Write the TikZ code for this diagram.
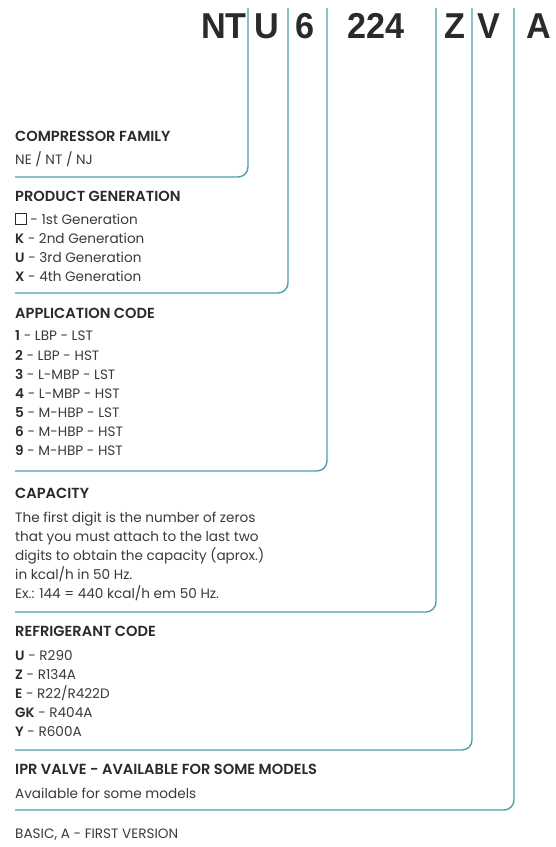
\documentclass[tikz,border=0pt]{standalone}
\usepackage{fontspec}
\setmainfont{Poppins}
\IfFontExistsTF{Poppins SemiBold}{\newfontfamily\hdrfont{Poppins SemiBold}}{\newcommand\hdrfont{\bfseries}}
\newfontfamily\titlefont[FakeStretch=0.95]{Liberation Sans}
\definecolor{lineteal}{HTML}{4F9EA7}
\definecolor{txt}{HTML}{3A3A3A}
\definecolor{hd}{HTML}{2A2A2A}
\tikzset{
  conn/.style={draw=lineteal, line width=1.4pt, rounded corners=10pt},
  ttl/.style={anchor=base west, inner sep=0pt, text=hd, font=\titlefont\bfseries\fontsize{36}{36}\selectfont},
  hdr/.style={anchor=base west, inner sep=0pt, text=hd, font=\fontsize{14.6}{16}\selectfont\hdrfont},
  body/.style={anchor=base west, inner sep=0pt, text=txt, font=\fontsize{13.6}{16}\selectfont},
}
\newcommand{\kk}[1]{{\hdrfont\color{hd}#1}}
\begin{document}
\begin{tikzpicture}[x=1pt,y=-1pt]
\useasboundingbox (0,0) rectangle (556,847);
% title
\node[ttl] (tNT) at (201,38) {NT};
\node[ttl] (tU) at (254,38) {U};
\node[ttl] (t6) at (295,38) {6};
\node[ttl] (t224) at (347,38) {224};
\node[ttl] (tZ) at (444,38) {Z};
\node[ttl] (tV) at (477,38) {V};
\node[ttl] (tA) at (526,38) {A};
% connector tops and ends
\coordinate (s1) at (248,8);  \coordinate (e1) at (15,177);
\coordinate (s2) at (288,8);  \coordinate (e2) at (15,293);
\coordinate (s3) at (327,8);  \coordinate (e3) at (15,471);
\coordinate (s4) at (436,8);  \coordinate (e4) at (15,612);
\coordinate (s5) at (472,8);  \coordinate (e5) at (15,750);
\coordinate (s6) at (514,8);  \coordinate (e6) at (15,810);
\draw[conn] (s1) |- (e1);
\draw[conn] (s2) |- (e2);
\draw[conn] (s3) |- (e3);
\draw[conn] (s4) |- (e4);
\draw[conn] (s5) |- (e5);
\draw[conn] (s6) |- (e6);
% compressor family
\node[hdr] (h1) at (15,141) {COMPRESSOR FAMILY};
\node[body] (b11) at (15,164) {NE / NT / NJ};
% product generation
\node[hdr] (h2) at (15,201) {PRODUCT GENERATION};
\node[body] (b21) at (15,224) {{\color{hd}\setlength\fboxsep{0pt}\setlength\fboxrule{0.8pt}\fbox{\rule{0pt}{10pt}\hspace{10pt}}} - 1st Generation};
\node[body] (b22) at (15,243) {\kk{K} - 2nd Generation};
\node[body] (b23) at (15,262) {\kk{U} - 3rd Generation};
\node[body] (b24) at (15,281) {\kk{X} - 4th Generation};
% application code
\node[hdr] (h3) at (15,318) {APPLICATION CODE};
\node[body] (b31) at (15,340) {\kk{1} - LBP - LST};
\node[body] (b32) at (15,360) {\kk{2} - LBP - HST};
\node[body] (b33) at (15,379) {\kk{3} - L-MBP - LST};
\node[body] (b34) at (15,398) {\kk{4} - L-MBP - HST};
\node[body] (b35) at (15,417) {\kk{5} - M-HBP - LST};
\node[body] (b36) at (15,436) {\kk{6} - M-HBP - HST};
\node[body] (b37) at (15,455) {\kk{9} - M-HBP - HST};
% capacity
\node[hdr] (h4) at (15,498) {CAPACITY};
\node[body] (b41) at (15,522) {The first digit is the number of zeros};
\node[body] (b42) at (15,541) {that you must attach to the last two};
\node[body] (b43) at (15,560) {digits to obtain the capacity (aprox.)};
\node[body] (b44) at (15,579) {in kcal/h in 50 Hz.};
\node[body] (b45) at (15,598) {Ex.: 144 = 440 kcal/h em 50 Hz.};
% refrigerant code
\node[hdr] (h5) at (15,636) {REFRIGERANT CODE};
\node[body] (b51) at (15,660) {\kk{U} - R290};
\node[body] (b52) at (15,679) {\kk{Z} - R134A};
\node[body] (b53) at (15,698) {\kk{E} - R22/R422D};
\node[body] (b54) at (15,717) {\kk{GK} - R404A};
\node[body] (b55) at (15,736) {\kk{Y} - R600A};
% IPR valve
\node[hdr] (h6) at (15,774) {IPR VALVE - AVAILABLE FOR SOME MODELS};
\node[body] (b61) at (15,798) {Available for some models};
% basic
\node[body] (h7) at (15,838) {BASIC, A - FIRST VERSION};
\end{tikzpicture}
\end{document}
